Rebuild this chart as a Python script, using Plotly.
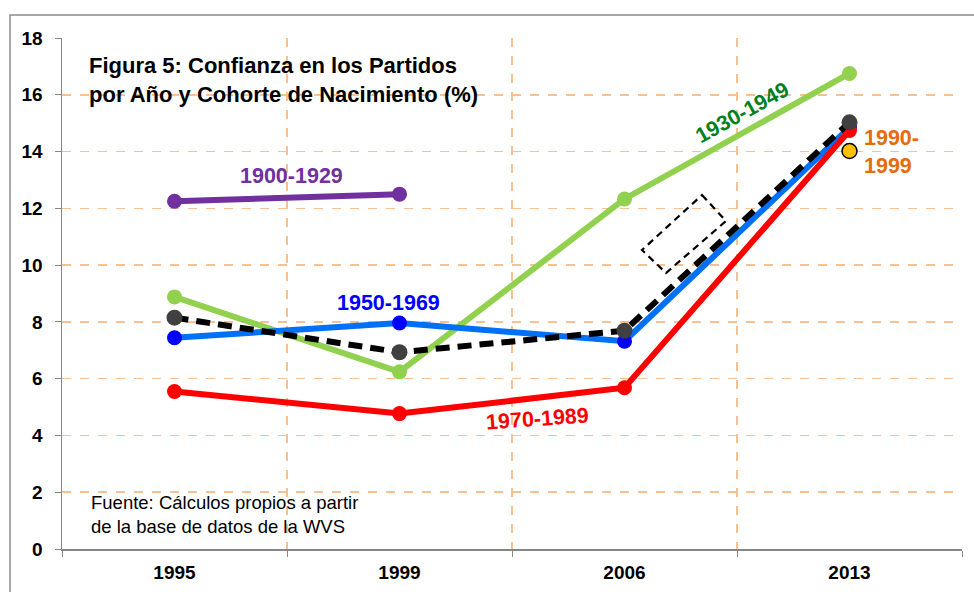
import plotly.graph_objects as go

years = ["1995", "1999", "2006", "2013"]
c1900_1929 = [12.25, 12.5, None, None]
c1930_1949 = [8.88, 6.24, 12.33, 16.75]
c1950_1969 = [7.44, 7.96, 7.32, 14.85]
c1970_1989 = [5.55, 4.77, 5.68, 14.74]
c_total = [8.15, 6.93, 7.69, 15.03]
c1990_1999 = [None, None, None, 14.02]

yticks = [0, 2, 4, 6, 8, 10, 12, 14, 16, 18]

W, H = 974, 592
L, R, T, B = 62, 12, 38, 43
PW, PH = W - L - R, H - T - B


def px(x, y):
    return (x - L) / PW, (H - B - y) / PH


FONT = "Liberation Sans, Arial, sans-serif"

fig = go.Figure()


def add_line(vals, lc, mc, name, dash=None, msize=15, width=6):
    fig.add_trace(go.Scatter(
        x=years, y=vals, mode="lines+markers", name=name,
        line=dict(color=lc, width=width, dash=dash),
        marker=dict(color=mc, size=msize),
        connectgaps=False, hoverinfo="x+y+name"))


add_line(c1930_1949, "#92D050", "#92D050", "1930-1949")
add_line(c1900_1929, "#7030A0", "#7030A0", "1900-1929")
add_line(c1950_1969, "#0070F8", "#0000FF", "1950-1969")
add_line(c1970_1989, "#FF0000", "#FF0000", "1970-1989")
add_line(c_total, "#000000", "#404040", "Total", dash="14px,8px", msize=16)
fig.add_trace(go.Scatter(
    x=years, y=c1990_1999, mode="markers", name="1990-1999",
    marker=dict(color="#FFC000", size=15, line=dict(color="#000000", width=1.5))))

ann = []


def add_text(x, y, text, color, size, bold=True, angle=0, xanchor="center", align="center"):
    xp, yp = px(x, y)
    t = f"<b>{text}</b>" if bold else text
    ann.append(dict(x=xp, y=yp, xref="paper", yref="paper", text=t, showarrow=False,
                    font=dict(family=FONT, size=size, color=color), textangle=angle,
                    xanchor=xanchor, yanchor="middle", align=align))


add_text(87, 80, "Figura 5: Confianza en los Partidos<br>por Año y Cohorte de Nacimiento (%)",
         "#000000", 22, xanchor="left", align="left")
add_text(89, 514, "Fuente: Cálculos propios a partir<br>de la base de datos de la WVS",
         "#000000", 18.5, bold=False, xanchor="left", align="left")
add_text(291, 176, "1900-1929", "#7030A0", 21.5)
add_text(742, 113, "1930-1949", "#00801E", 21.5, angle=-29)
add_text(388, 303, "1950-1969", "#0000FF", 21.5)
add_text(537, 419, "1970-1989", "#FF0000", 21.5, angle=-4)
add_text(862, 152, "1990-<br>1999", "#E46C0A", 21.5, xanchor="left", align="left")

shapes = []
# outer chart border
x0, y0 = px(10, 15)
x1, y1 = px(1010, 640)
shapes.append(dict(type="rect", xref="paper", yref="paper", x0=x0, y0=y1, x1=x1, y1=y0,
                   line=dict(color="#8C8C8C", width=1.5), fillcolor="rgba(0,0,0,0)", layer="below"))
# dashed callout box
corners = [(702, 195), (726, 221), (666, 273), (642, 250)]
pts = [px(a, b) for a, b in corners]
path = "M " + " L ".join(f"{a},{b}" for a, b in pts) + " Z"
shapes.append(dict(type="path", xref="paper", yref="paper", path=path,
                   line=dict(color="#000000", width=2.2, dash="7px,5px")))

fig.update_layout(
    width=W, height=H,
    margin=dict(l=L, r=R, t=T, b=B, autoexpand=False),
    paper_bgcolor="white", plot_bgcolor="white",
    showlegend=False,
    annotations=ann, shapes=shapes,
    font=dict(family=FONT, color="#000000"),
)
fig.update_xaxes(
    type="category", categoryorder="array", categoryarray=years,
    range=[-0.5, 3.5], tickson="boundaries", automargin=False,
    showline=True, linecolor="#868686", linewidth=1.5,
    ticks="outside", ticklen=6, tickcolor="#868686",
    showgrid=True, gridcolor="#FAC090", griddash="dash", gridwidth=1.5,
    tickfont=dict(family=FONT, size=19, color="#000000"),
    tickvals=years, ticktext=[f"<b>{y}</b>" for y in years],
    ticklabelstandoff=6,
    zeroline=False, fixedrange=True,
)
fig.update_yaxes(
    range=[0, 18], tickvals=yticks, ticktext=[f"<b>{v}</b>" for v in yticks],
    automargin=False,
    showline=True, linecolor="#868686", linewidth=1.5,
    ticks="outside", ticklen=6, tickcolor="#868686",
    showgrid=True, gridcolor="#FAC090", griddash="dash", gridwidth=1.5,
    tickfont=dict(family=FONT, size=19, color="#000000"),
    ticklabelstandoff=8,
    zeroline=False, fixedrange=True,
)

fig.write_html(
    "out.html",
    config={"displayModeBar": False, "staticPlot": True},
    post_script="document.body.style.margin='0';document.body.style.overflow='hidden';",
)
